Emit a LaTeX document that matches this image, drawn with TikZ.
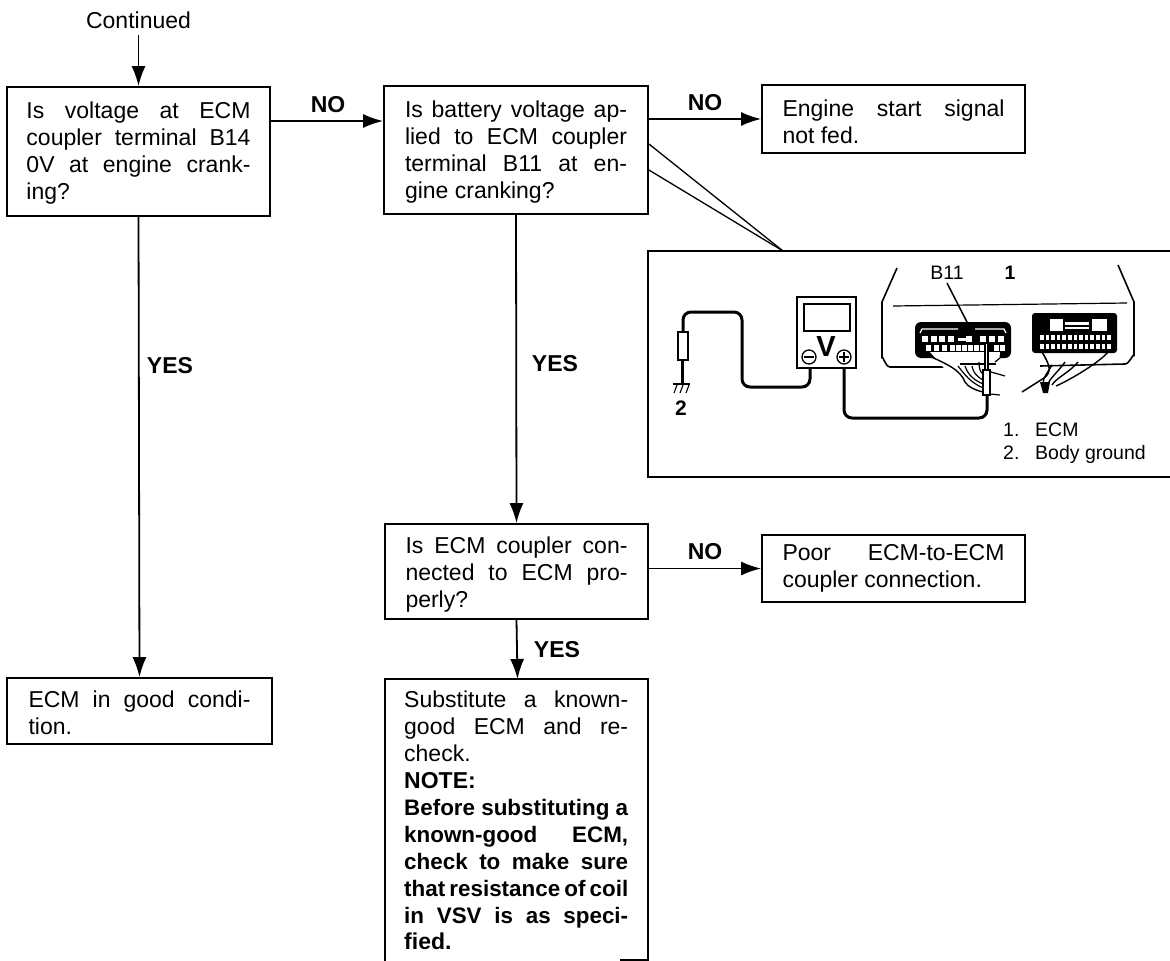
\documentclass[tikz,border=0pt]{standalone}
\usepackage{fontspec}
\setmainfont{Liberation Sans}
\usetikzlibrary{arrows.meta,calc}
\newlength{\lw}
\newcommand{\jl}[1]{\makebox[\lw][s]{#1}\\}
\newcommand{\bjl}[1]{\makebox[\lw][s]{\fontsize{22.4}{26.9}\selectfont\bfseries #1}\\}
\newcommand{\tg}[1]{\rule{0pt}{#1pt}}
\tikzset{
  x=1pt,y=-1pt,
  box/.style={draw=black,line width=1.8pt,rectangle,inner sep=0pt,font=\fontsize{23}{27}\selectfont,align=left,text=black},
  lab/.style={font=\fontsize{23}{24}\selectfont\bfseries,inner sep=0pt,text=black},
  plain/.style={font=\fontsize{23}{24}\selectfont,inner sep=0pt,text=black},
  small/.style={font=\fontsize{19.5}{20}\selectfont,inner sep=0pt,text=black,anchor=base west},
  flow/.style={line width=1.8pt,-{Latex[length=20pt,width=14pt]}},
  ill/.style={line width=1.6pt,line join=round},
  cable/.style={line width=3pt,rounded corners=8pt},
}
\begin{document}
\begin{tikzpicture}
\useasboundingbox (0,0) rectangle (1170,961);
\node[plain,minimum height=30pt] (cont) at (138.5,20) {Continued};
\setlength{\lw}{224pt}
\node[box,minimum width=263pt,minimum height=129pt] (box1) at (138.5,151.5) {\tg{19}\jl{Is voltage at ECM}\jl{coupler terminal B14}\jl{0V at engine crank-}ing?};
\setlength{\lw}{222pt}
\node[box,minimum width=264pt,minimum height=128pt] (box2) at (516,150) {\tg{21}\jl{Is battery voltage ap-}\jl{lied to ECM coupler}\jl{terminal B11 at en-}gine cranking?};
\node[box,minimum width=263pt,minimum height=68pt] (box3) at (893.5,119) {\tg{22}\jl{Engine start signal}not fed.};
\node[box,minimum width=263pt,minimum height=95pt] (box5) at (516.5,571.5) {\tg{22}\jl{Is ECM coupler con-}\jl{nected to ECM pro-}perly?};
\node[box,minimum width=263pt,minimum height=67pt] (box6) at (893.5,568.5) {\jl{Poor ECM-to-ECM}coupler connection.};
\node[box,minimum width=265pt,minimum height=66pt] (box4) at (139.5,711) {\tg{21}\jl{ECM in good condi-}tion.};
% open-bottomed box
\setlength{\lw}{224pt}
\node[inner sep=0pt,anchor=north west,align=left,font=\fontsize{23}{26.9}\selectfont,text=black] (box7) at (404,691) {\jl{Substitute a known-}\jl{good ECM and re-}check.\\\textbf{NOTE:}\\\bjl{Before substituting a}\bjl{known-good ECM,}\bjl{check to make sure}\bjl{that resistance of coil}\bjl{in VSV is as speci-}\textbf{fied.}};
\coordinate (b7n) at (517.5,679);
\draw[line width=1.8pt] (385,961) -- (385,679) -- (648,679) -- (648,961);
\draw[line width=1.8pt] (620,960) -- (648,960);
% flow
\draw[flow] (cont.south) -- (box1.north);
\draw[flow] ([yshift=30.5pt]box1.east) -- ([yshift=29pt]box2.west);
\draw[flow] (box2.east |- box3.west) -- (box3.west);
\draw[flow] (box1.south) -- (box4.north);
\draw[flow] (box2.south) -- (box5.north);
\draw[flow] (box5.east |- box6.west) -- (box6.west);
\draw[flow] (box5.south) -- (b7n);
\node[lab] (no1) at (328,105) {NO};
\node[lab] (no2) at (705,103) {NO};
\node[lab] (no3) at (705,552) {NO};
\node[lab] (yes1) at (170,366) {YES};
\node[lab] (yes2) at (555,364) {YES};
\node[lab] (yes3) at (557,650) {YES};
% panel
\coordinate (wedge) at (783,251);
\draw[line width=1.3pt] ([yshift=6pt]box2.east) -- (wedge);
\draw[line width=1.3pt] ([yshift=-20pt]box2.east) -- (wedge);
\draw[line width=1.9pt] (1170,251) -- (648,251) -- (648,477) -- (1170,477);
% voltmeter
\draw[line width=1.8pt] (797,297) rectangle (856,368);
\draw[line width=1.8pt] (804,304) rectangle (850,331);
\draw[line width=1.3pt] (809,357) circle (7);
\draw[line width=1.3pt] (844,357) circle (7);
\draw[line width=1.4pt] (804,357) -- (814,357);
\draw[line width=1.4pt] (839,357) -- (849,357) (844,352) -- (844,362);
\node[inner sep=0pt,font=\fontsize{29}{29}\selectfont\bfseries] (vlab) at (826,347) {V};
% left cable, probe and ground
\draw[cable] (810,368) -- (810,387) -- (742,387) -- (742,312) -- (683,312) -- (683,332);
\draw[line width=1.5pt] (678,332) rectangle (688,360);
\draw[line width=3pt] (682,360) -- (682,383);
\draw[line width=2.4pt] (673,384) -- (690,384);
\draw[line width=1.1pt] (677,385) -- (674,393) (683,385) -- (680,393) (689,385) -- (686,393);
\node[inner sep=0pt,font=\fontsize{21}{21}\selectfont\bfseries] (g2) at (681,408) {2};
% case
\draw[ill] (897,268) -- (882,302) -- (882,358) to[out=90,in=180] (890,367) -- (952,367);
\draw[ill] (1040,366) -- (1125,364) to[out=0,in=90] (1134,356) -- (1134,302) -- (1118,265);
\draw[line width=1.2pt] (893,306) -- (1127,303);
% left connector
\fill[black,rounded corners=6pt] (915,322) rectangle (1011,358);
\draw[white,line width=1.2pt] (920,333) -- (922,329) -- (958,329) (975,329) -- (1004,329) -- (1006,333);
\foreach \x in {925,934,942,951,969,983,992,1001} \fill[white] (\x-3,336) rectangle (\x+3,342);
\fill[white] (958,338) rectangle (966,341);
\foreach \x in {928,936,944,952,958,964,970,976,982,996,1002} \fill[white] (\x-2.5,344.5) rectangle (\x+2.5,350.5);
\draw[black,line width=1.5pt] (947,283) -- (968,324);
% wires left
\fill[white] (930,352) -- (1000,352) -- (998,375) -- (950,375) -- cycle;
\draw[line width=1.4pt] (920,352) .. controls (950,365) and (960,370) .. (965,382) .. controls (968,387) and (975,390) .. (983,392);
\draw[line width=1.4pt] (960,364) -- (996,364);
\draw[line width=1.2pt] (958,366) .. controls (965,375) and (970,382) .. (983,388);
\draw[line width=1.2pt] (965,366) .. controls (968,375) and (974,380) .. (983,384);
\draw[line width=1.2pt] (972,366) .. controls (973,372) and (976,376) .. (983,380);
\draw[line width=1.2pt] (979,362) .. controls (979,368) and (980,372) .. (983,374);
\draw[line width=1.2pt] (991,372) -- (1005,376);
\draw[line width=1.2pt] (990,394) -- (1000,395);
\draw[line width=1.2pt] (995,362) -- (1000,358);
% needle and probe
\draw[line width=1.1pt,fill=white] (985,343) rectangle (988,370);
\draw[line width=1.5pt,fill=white] (983,370) rectangle (990,395);
% right cable
\draw[cable] (844,368) -- (844,418) -- (987,418) -- (987,395);
% right connector
\fill[black,rounded corners=3pt] (1032,313) rectangle (1117,353);
\fill[white] (1050,319) rectangle (1063,331);
\fill[white] (1065,322) rectangle (1089,325);
\fill[white] (1065,327) rectangle (1089,329);
\fill[white] (1092,319) rectangle (1107,331);
\foreach \i in {0,...,12} {\fill[white] (1040+\i*5.6,335) rectangle (1043.5+\i*5.6,340);\fill[white] (1040+\i*5.6,344) rectangle (1043.5+\i*5.6,349);}
% wires right
\draw[line width=1.5pt] (1042,352) .. controls (1050,365) and (1052,372) .. (1044,378) -- (1022,392);
\draw[line width=1.4pt] (1052,365) .. controls (1048,372) and (1043,378) .. (1043,383);
\draw[line width=1.4pt] (1065,362) .. controls (1058,372) and (1050,378) .. (1048,384);
\draw[line width=1.4pt] (1078,362) .. controls (1070,372) and (1056,378) .. (1052,385);
\draw[line width=1.4pt] (1108,352) .. controls (1100,362) and (1070,380) .. (1056,386);
\fill[black] (1040,382) -- (1050,382) -- (1048,393) -- (1043,393) -- cycle;
% labels
\node[inner sep=0pt,font=\fontsize{19.5}{19.5}\selectfont,anchor=center] (lb11) at (947,273) {B11};
\node[inner sep=0pt,font=\fontsize{19.5}{19.5}\selectfont\bfseries,anchor=center] (l1) at (1010,273) {1};
\node[small] (k1) at (1003,436) {1.};
\node[small] (k1t) at (1035,436) {ECM};
\node[small] (k2) at (1003,459) {2.};
\node[small] (k2t) at (1035,459) {Body ground};
\end{tikzpicture}
\end{document}
